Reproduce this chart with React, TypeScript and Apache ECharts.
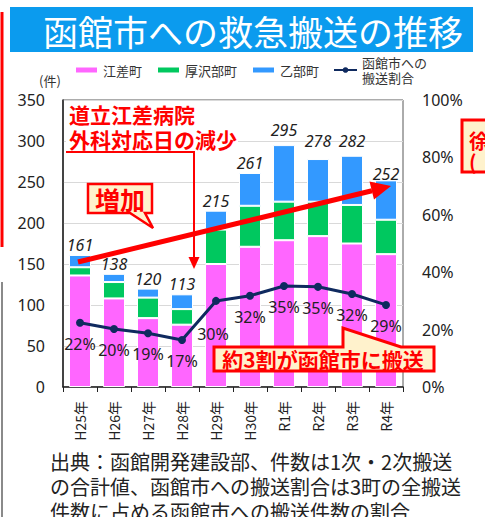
import React, { useEffect, useRef } from "react";
import * as echarts from "echarts";

const categories = ["H25年", "H26年", "H27年", "H28年", "H29年", "H30年", "R1年", "R2年", "R3年", "R4年"];
const esashi = [136, 108, 84, 76, 150, 171, 179, 184, 175, 162];
const assabu = [10, 20, 25, 19, 42, 50, 47, 42, 47, 42];
const otobe = [15, 10, 11, 18, 23, 40, 69, 52, 60, 48];
const totals = [161, 138, 120, 113, 215, 261, 295, 278, 282, 252];
const ratio = [22.4, 20.2, 18.7, 16.4, 30.0, 31.8, 35.2, 34.9, 32.4, 28.6];
const ratioLabels = [22, 20, 19, 17, 30, 32, 35, 35, 32, 29];
const totalLabelOffsets = [0, 0, 0, 0, 0, 0, -5, -8, -5, 4];

const leftTicks = { min: 0, max: 350, interval: 50 };
const rightTicks = { min: 0, max: 100, interval: 20 };

const CJK = "'Noto Sans CJK JP', 'Noto Sans', sans-serif";
const NUM = "'Noto Sans', 'Noto Sans CJK JP', sans-serif";
const RED = "#ff0000";
const CREAM = "#fff2cc";

export default function App() {
  const ref = useRef<HTMLDivElement>(null);
  useEffect(() => {
    if (!ref.current) return;
    const chart = echarts.init(ref.current, null, { renderer: "svg" });
    const ratioName = "函館市への搬送割合";
    chart.setOption({
      animation: false,
      backgroundColor: "#ffffff",
      textStyle: { fontFamily: CJK },
      grid: {
        left: 63,
        right: 82,
        top: 100,
        bottom: 130,
        show: true,
        borderColor: "#595959",
        borderWidth: 1,
        backgroundColor: "transparent",
      },
      legend: {
        left: 69,
        top: 50,
        itemWidth: 23,
        itemHeight: 7,
        itemGap: 14,
        textStyle: { fontSize: 13, color: "#333", fontFamily: CJK, lineHeight: 15 },
        formatter: (name: string) => (name === ratioName ? "函館市への\n搬送割合" : name),
        data: [
          { name: "江差町", icon: "rect" },
          { name: "厚沢部町", icon: "rect" },
          { name: "乙部町", icon: "rect" },
          { name: ratioName },
        ],
      },
      xAxis: {
        type: "category",
        data: categories,
        axisLine: { lineStyle: { color: "#222", width: 1.5 } },
        axisTick: { show: true, length: 5, lineStyle: { color: "#222" } },
        axisLabel: { rotate: 90, margin: 14, fontSize: 14, color: "#222", fontFamily: CJK },
      },
      yAxis: [
        {
          type: "value",
          ...leftTicks,
          axisLine: { show: true, lineStyle: { color: "#222", width: 1.5 } },
          axisTick: { show: false },
          splitLine: { lineStyle: { color: "#d9d9d9", width: 1 } },
          axisLabel: { margin: 18, fontSize: 16, color: "#222", fontFamily: NUM },
        },
        {
          type: "value",
          ...rightTicks,
          axisLine: { show: false },
          axisTick: { show: false },
          splitLine: { show: false },
          axisLabel: { margin: 19, fontSize: 16, color: "#222", fontFamily: NUM, formatter: "{value}%" },
        },
      ],
      series: [
        {
          name: "江差町",
          type: "bar",
          stack: "total",
          barWidth: 22,
          data: esashi,
          itemStyle: { color: "#ff66ff", borderColor: "#ffffff", borderWidth: 1 },
        },
        {
          name: "厚沢部町",
          type: "bar",
          stack: "total",
          barWidth: 22,
          data: assabu,
          itemStyle: { color: "#00c85f", borderColor: "#ffffff", borderWidth: 1 },
        },
        {
          name: "乙部町",
          type: "bar",
          stack: "total",
          barWidth: 22,
          data: otobe.map((v, i) => ({
            value: v,
            label: { offset: [0, totalLabelOffsets[i]] },
          })),
          itemStyle: { color: "#3399ff", borderColor: "#ffffff", borderWidth: 1 },
          label: {
            show: true,
            position: "top",
            distance: 2,
            fontSize: 16,
            fontStyle: "italic",
            color: "#222",
            fontFamily: NUM,
            formatter: (p: any) => String(totals[p.dataIndex]),
          },
        },
        {
          name: ratioName,
          type: "line",
          yAxisIndex: 1,
          data: ratio.map((v, i) => ({
            value: v,
            label: i === 4 ? { distance: 21, offset: [-3, 0] } : {},
          })),
          color: "#0f2a5f",
          lineStyle: { color: "#0f2a5f", width: 3 },
          itemStyle: { color: "#0f2a5f" },
          symbol: "circle",
          symbolSize: 8,
          z: 5,
          label: {
            show: true,
            position: "bottom",
            distance: 9,
            fontSize: 16,
            color: "#222",
            fontFamily: NUM,
            formatter: (p: any) => ratioLabels[p.dataIndex] + "%",
          },
        },
      ],
      graphic: [
        { type: "rect", shape: { x: 10, y: 7, width: 463, height: 45 }, style: { fill: "#0b9bee" } },
        {
          type: "text",
          x: 43,
          y: 30,
          style: {
            text: "函館市への救急搬送の推移",
            fill: "#ffffff",
            fontSize: 35,
            fontFamily: CJK,
            align: "left",
            verticalAlign: "middle",
          },
        },
        { type: "line", shape: { x1: 2, y1: 12, x2: 2, y2: 247 }, style: { stroke: RED, lineWidth: 3 } },
        { type: "line", shape: { x1: 2, y1: 282, x2: 2, y2: 517 }, style: { stroke: "#8a8a8a", lineWidth: 2 } },
        {
          type: "text",
          x: 39,
          y: 80,
          style: { text: "(件)", fill: "#333", fontSize: 13, fontFamily: CJK, align: "left", verticalAlign: "middle" },
        },
        { type: "rect", z: 10, shape: { x: 66, y: 101, width: 172, height: 50 }, style: { fill: "#ffffff" } },
        {
          type: "text",
          z: 11,
          x: 69,
          y: 101,
          style: {
            text: "道立江差病院\n外科対応日の減少",
            fill: RED,
            fontSize: 21,
            fontWeight: "bold",
            lineHeight: 25,
            fontFamily: CJK,
            align: "left",
            verticalAlign: "top",
          },
        },
        {
          type: "polyline",
          z: 11,
          shape: { points: [[66, 152], [194, 152], [194, 259]] },
          style: { stroke: RED, lineWidth: 2, fill: "none" },
        },
        { type: "polygon", z: 11, shape: { points: [[188.5, 257], [199.5, 257], [194, 269]] }, style: { fill: RED } },
        {
          type: "polygon",
          z: 11,
          shape: {
            points: [[88, 184], [152, 184], [152, 213], [145, 213], [153, 228], [130, 213], [88, 213]],
          },
          style: { fill: CREAM, stroke: RED, lineWidth: 2.5 },
        },
        {
          type: "text",
          z: 12,
          x: 120,
          y: 199,
          style: {
            text: "増加",
            fill: RED,
            fontSize: 25,
            fontWeight: "bold",
            fontFamily: CJK,
            align: "center",
            verticalAlign: "middle",
          },
        },
        {
          type: "polyline",
          z: 11,
          shape: { points: [[78, 262], [372, 190.7]] },
          style: { stroke: RED, lineWidth: 5, fill: "none" },
        },
        {
          type: "polygon",
          z: 11,
          shape: { points: [[391, 186], [369.5, 181.5], [374, 199.5]] },
          style: { fill: RED },
        },
        {
          type: "polygon",
          z: 11,
          shape: {
            points: [[214, 347], [343, 347], [343, 328], [401, 347], [434, 347], [434, 371], [214, 371]],
          },
          style: { fill: CREAM, stroke: RED, lineWidth: 3 },
        },
        {
          type: "text",
          z: 12,
          x: 323,
          y: 359,
          style: {
            text: "約3割が函館市に搬送",
            fill: RED,
            fontSize: 21,
            fontWeight: "bold",
            fontFamily: CJK,
            align: "center",
            verticalAlign: "middle",
          },
        },
        {
          type: "rect",
          z: 11,
          shape: { x: 462, y: 120, width: 40, height: 52 },
          style: { fill: CREAM, stroke: RED, lineWidth: 3 },
        },
        {
          type: "text",
          z: 12,
          x: 469,
          y: 151,
          style: {
            text: "徐\n(",
            fill: RED,
            fontSize: 20,
            lineHeight: 21,
            fontWeight: "bold",
            fontFamily: CJK,
            verticalAlign: "middle",
          },
        },
        {
          type: "text",
          x: 50,
          y: 449,
          style: {
            text:
              "出典：函館開発建設部、件数は1次・2次搬送\nの合計値、函館市への搬送割合は3町の全搬送\n件数に占める函館市への搬送件数の割合",
            fill: "#222",
            fontSize: 20,
            lineHeight: 25,
            fontFamily: CJK,
            align: "left",
            verticalAlign: "top",
          },
        },
      ],
    });
    return () => chart.dispose();
  }, []);
  return (
    <div
      ref={ref}
      style={{ position: "fixed", left: 0, top: 0, width: 485, height: 517 }}
    />
  );
}
